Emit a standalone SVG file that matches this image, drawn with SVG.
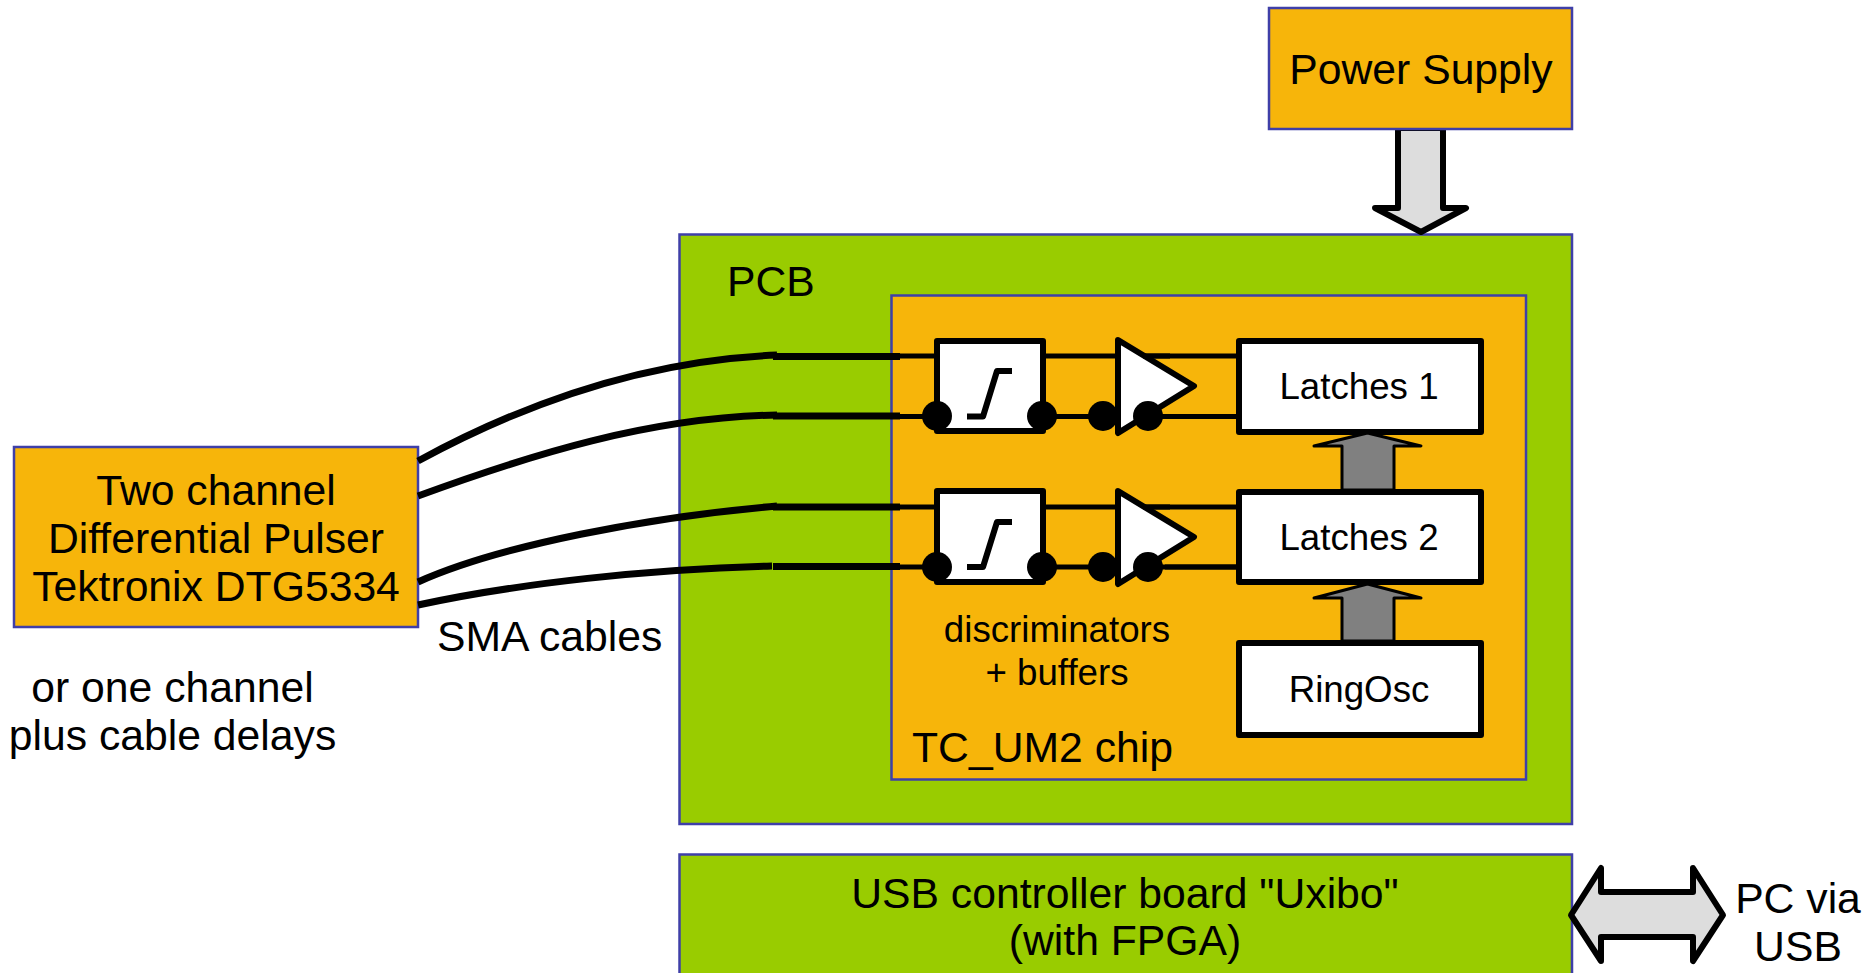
<svg xmlns="http://www.w3.org/2000/svg" width="1866" height="973" viewBox="0 0 1866 973">
<defs>
<style>
text{font-family:"Liberation Sans",Arial,sans-serif;fill:#000;text-anchor:middle}
.t40{font-size:42.7px}.t36{font-size:36.7px}
.s{text-anchor:start}
.or{fill:#f7b50a;stroke:#3f3fa8;stroke-width:2.5}
.gr{fill:#99cc00;stroke:#3f3fa8;stroke-width:2.5}
.wb{fill:#fff;stroke:#000;stroke-width:6;stroke-linejoin:round}
.thin{fill:none;stroke:#000;stroke-width:5}
.cable{fill:none;stroke:#000;stroke-width:7}
.ga{fill:#808080;stroke:#000;stroke-width:3;stroke-linejoin:round}
.la{fill:#dddddd;stroke:#000;stroke-width:6;stroke-linejoin:round}
.sig{fill:none;stroke:#000;stroke-width:6;stroke-linejoin:round}
</style>
</defs>
<rect width="1866" height="973" fill="#fff"/>
<g id="pcb"><rect class="gr" x="679.500" y="234.500" width="892.500" height="589.500"/><text class="t40 s" x="727" y="296">PCB</text></g>
<g id="chip"><rect class="or" x="891.500" y="295.500" width="634.500" height="484"/><text class="t40 s" x="912" y="762">TC_UM2 chip</text></g>
<g id="arrow-power"><path class="la" d="M1398 128V208H1375L1421 232L1466 208H1443V128Z"/></g>
<g id="power"><rect class="or" x="1269" y="8" width="303" height="121"/><text class="t40" x="1421" y="84">Power Supply</text></g>
<g id="pulser"><rect class="or" x="14" y="447" width="404" height="180"/><text class="t40" x="216" y="505">Two channel</text><text class="t40" x="216" y="553">Differential Pulser</text><text class="t40" x="216" y="601">Tektronix DTG5334</text></g>
<g id="usb"><rect class="gr" x="679.500" y="854.500" width="892.500" height="130"/><text class="t40" x="1125" y="908">USB controller board "Uxibo"</text><text class="t40" x="1125" y="955">(with FPGA)</text></g>
<g id="connectors">
<path class="cable" d="M418 461C530 400 650 360 777 355"/>
<path class="cable" d="M418 496C530 455 650 417 777 415"/>
<path class="cable" d="M418 582C500 545 650 517 777 506"/>
<path class="cable" d="M418 605C520 583 650 569 772 566"/>
<path class="cable" d="M773 356.500H900M773 416H900M773 507H900M773 566.500H900"/>
<path class="thin" d="M895 356H1239M895 416.500H1239M895 507H1239M895 567H1239"/>
</g>
<g id="disc1"><rect class="wb" x="937" y="341" width="106" height="90"/><path class="sig" d="M967 416.500H983L997 371H1012"/><circle cx="937" cy="416" r="15"/><circle cx="1042" cy="416" r="15"/></g>
<g id="disc2"><rect class="wb" x="937" y="491" width="106" height="91"/><path class="sig" d="M967 567H983L997 522H1012"/><circle cx="937" cy="567" r="15"/><circle cx="1042" cy="567" r="15"/></g>
<g id="buffer1"><circle cx="1103" cy="416" r="15"/><path class="wb" d="M1118 340L1194 386L1118 433Z"/><path class="thin" d="M1143 356H1170M1165 416.500H1239"/><circle cx="1148" cy="416" r="15"/></g>
<g id="buffer2"><circle cx="1103" cy="567" r="15"/><path class="wb" d="M1118 491L1194 537L1118 584Z"/><path class="thin" d="M1143 507H1170M1165 567H1239"/><circle cx="1148" cy="567" r="15"/></g>
<g id="latches1"><rect class="wb" x="1239" y="341" width="242" height="91"/><text class="t36" x="1359" y="399">Latches 1</text></g>
<g id="latches2"><rect class="wb" x="1239" y="492" width="242" height="90"/><text class="t36" x="1359" y="550">Latches 2</text></g>
<g id="ringosc"><rect class="wb" x="1239" y="643" width="242" height="92"/><text class="t36" x="1359" y="702">RingOsc</text></g>
<g id="arrows">
<path class="ga" d="M1342 490V446H1314L1367.500 433L1421 446H1394V490Z"/>
<path class="ga" d="M1342 641V598H1314L1367.500 584L1421 598H1394V641Z"/>
<path class="la" d="M1571 915L1601 868V892H1693V868L1723 915L1693 961V937H1601V961Z"/>
</g>
<g id="labels">
<text class="t40 s" x="437" y="651">SMA cables</text>
<text class="t40" x="172.500" y="702">or one channel</text>
<text class="t40" x="172.500" y="750">plus cable delays</text>
<text class="t36" x="1057" y="642">discriminators</text>
<text class="t36" x="1057" y="685">+ buffers</text>
<text class="t40" x="1798" y="913">PC via</text>
<text class="t40" x="1798" y="961">USB</text>
</g>
</svg>
